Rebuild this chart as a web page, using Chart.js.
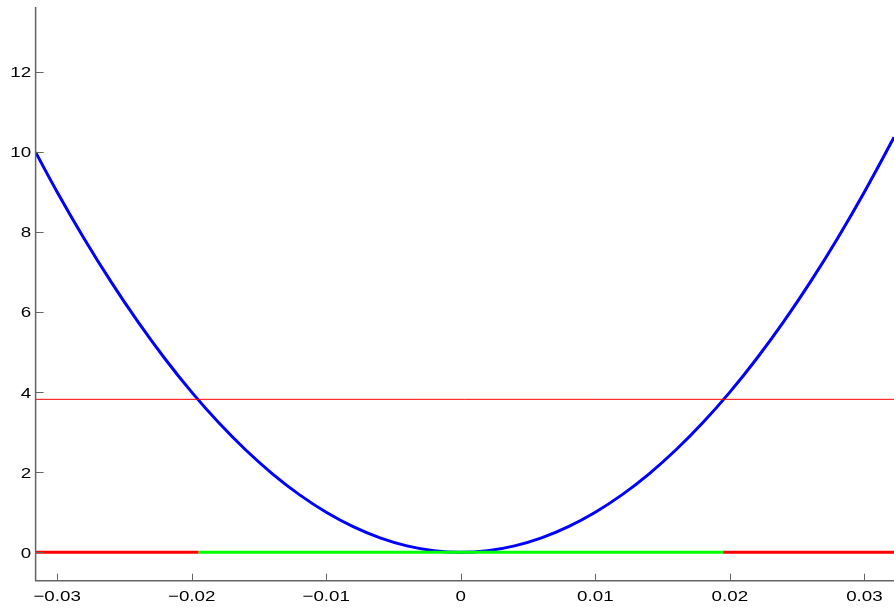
<!DOCTYPE html>
<html>
<head>
<meta charset="utf-8">
<script src="https://cdn.jsdelivr.net/npm/chart.js@4/dist/chart.umd.min.js"></script>
<style>
html,body{margin:0;padding:0;background:#fff;}
#wrap{width:894px;height:608px;position:relative;}
</style>
</head>
<body>
<div id="wrap"><canvas id="c" width="894" height="608"></canvas></div>
<script>
// Data
const curveX = [-0.0316,-0.030,-0.028,-0.026,-0.024,-0.022,-0.020,-0.018,-0.016,-0.014,-0.012,-0.010,-0.008,-0.006,-0.004,-0.002,0,
                 0.002,0.004,0.006,0.008,0.010,0.012,0.014,0.016,0.018,0.020,0.022,0.024,0.026,0.028,0.030,0.032,0.0322];
const curveY = [9.99,9.0,7.84,6.76,5.76,4.84,4.0,3.24,2.56,1.96,1.44,1.0,0.64,0.36,0.16,0.04,0,
                 0.04,0.16,0.36,0.64,1.0,1.44,1.96,2.56,3.24,4.0,4.84,5.76,6.76,7.84,9.0,10.24,10.37];
const thresholdY = 3.82;
const xLimits = [-0.0316, 0.0322];
const yLimits = [-0.71, 13.62];
const boundaryX = [-0.0195, 0.0195];
const xTicks = [-0.03,-0.02,-0.01,0,0.01,0.02,0.03];
const yTicks = [0,2,4,6,8,10,12];
const xTickLabels = ['\u22120.03','\u22120.02','\u22120.01','0','0.01','0.02','0.03'];
const yTickLabels = ['0','2','4','6','8','10','12'];

const curve = curveX.map((x,i)=>({x:x,y:curveY[i]}));

const axesPlugin = {
  id:'axesPlugin',
  afterDraw(chart){
    const ctx = chart.ctx, xs = chart.scales.x, ys = chart.scales.y, a = chart.chartArea;
    ctx.save();
    ctx.strokeStyle = '#646464';
    ctx.lineWidth = 1;
    ctx.beginPath();
    xTicks.forEach(v=>{
      const px = Math.round(xs.getPixelForValue(v))+0.5;
      ctx.moveTo(px, a.bottom); ctx.lineTo(px, a.bottom-7);
    });
    yTicks.forEach(v=>{
      const py = Math.round(ys.getPixelForValue(v))+0.5;
      ctx.moveTo(a.left, py); ctx.lineTo(a.left+8, py);
    });
    ctx.stroke();
    ctx.lineWidth = 1.5;
    ctx.beginPath();
    ctx.moveTo(a.left, a.top); ctx.lineTo(a.left, a.bottom);
    ctx.lineTo(a.right, a.bottom);
    ctx.stroke();
    // tick labels (slightly wide Helvetica-like face as in the reference)
    const sx = 1.25;
    ctx.fillStyle = '#000';
    ctx.font = '15px "Liberation Sans", Arial, sans-serif';
    ctx.textBaseline = 'alphabetic';
    ctx.textAlign = 'center';
    xTicks.forEach((v,i)=>{
      const px = xs.getPixelForValue(v);
      ctx.save(); ctx.translate(px, 600.7); ctx.scale(sx,1);
      ctx.fillText(xTickLabels[i], 0, 0); ctx.restore();
    });
    ctx.textAlign = 'right';
    yTicks.forEach((v,i)=>{
      const py = ys.getPixelForValue(v);
      ctx.save(); ctx.translate(a.left-4.5, py+5.4); ctx.scale(sx,1);
      ctx.fillText(yTickLabels[i], 0, 0); ctx.restore();
    });
    ctx.restore();
  }
};

new Chart(document.getElementById('c'), {
  type:'scatter',
  data:{
    datasets:[
      {data:curve, showLine:true, borderColor:'#0000ff', borderWidth:3, pointRadius:0, cubicInterpolationMode:'monotone', order:3},
      {data:[{x:xLimits[0],y:thresholdY},{x:xLimits[1],y:thresholdY}], showLine:true, borderColor:'#ff0000', borderWidth:1, pointRadius:0, order:2},
      {data:[{x:xLimits[0],y:0},{x:boundaryX[0],y:0}], showLine:true, borderColor:'#ff0000', borderWidth:3, pointRadius:0, order:1},
      {data:[{x:boundaryX[0],y:0},{x:boundaryX[1],y:0}], showLine:true, borderColor:'#00ff00', borderWidth:3, pointRadius:0, order:1},
      {data:[{x:boundaryX[1],y:0},{x:xLimits[1],y:0}], showLine:true, borderColor:'#ff0000', borderWidth:3, pointRadius:0, order:1}
    ]
  },
  options:{
    responsive:false,
    animation:false,
    devicePixelRatio:1,
    layout:{padding:{top:7,right:0,left:0,bottom:0}},
    plugins:{legend:{display:false}, tooltip:{enabled:false}},
    scales:{
      x:{
        type:'linear', min:xLimits[0], max:xLimits[1],
        afterBuildTicks(s){ s.ticks = xTicks.map(v=>({value:v})); },
        afterFit(s){ s.height = 27.3; s.paddingLeft = 0; s.paddingRight = 0; },
        grid:{display:false, drawTicks:false},
        border:{display:false},
        ticks:{display:false}
      },
      y:{
        type:'linear', min:yLimits[0], max:yLimits[1],
        afterBuildTicks(s){ s.ticks = yTicks.map(v=>({value:v})); },
        afterFit(s){ s.width = 35.6; s.paddingTop = 0; s.paddingBottom = 0; },
        grid:{display:false, drawTicks:false},
        border:{display:false},
        ticks:{display:false}
      }
    }
  },
  plugins:[axesPlugin]
});
</script>
</body>
</html>
